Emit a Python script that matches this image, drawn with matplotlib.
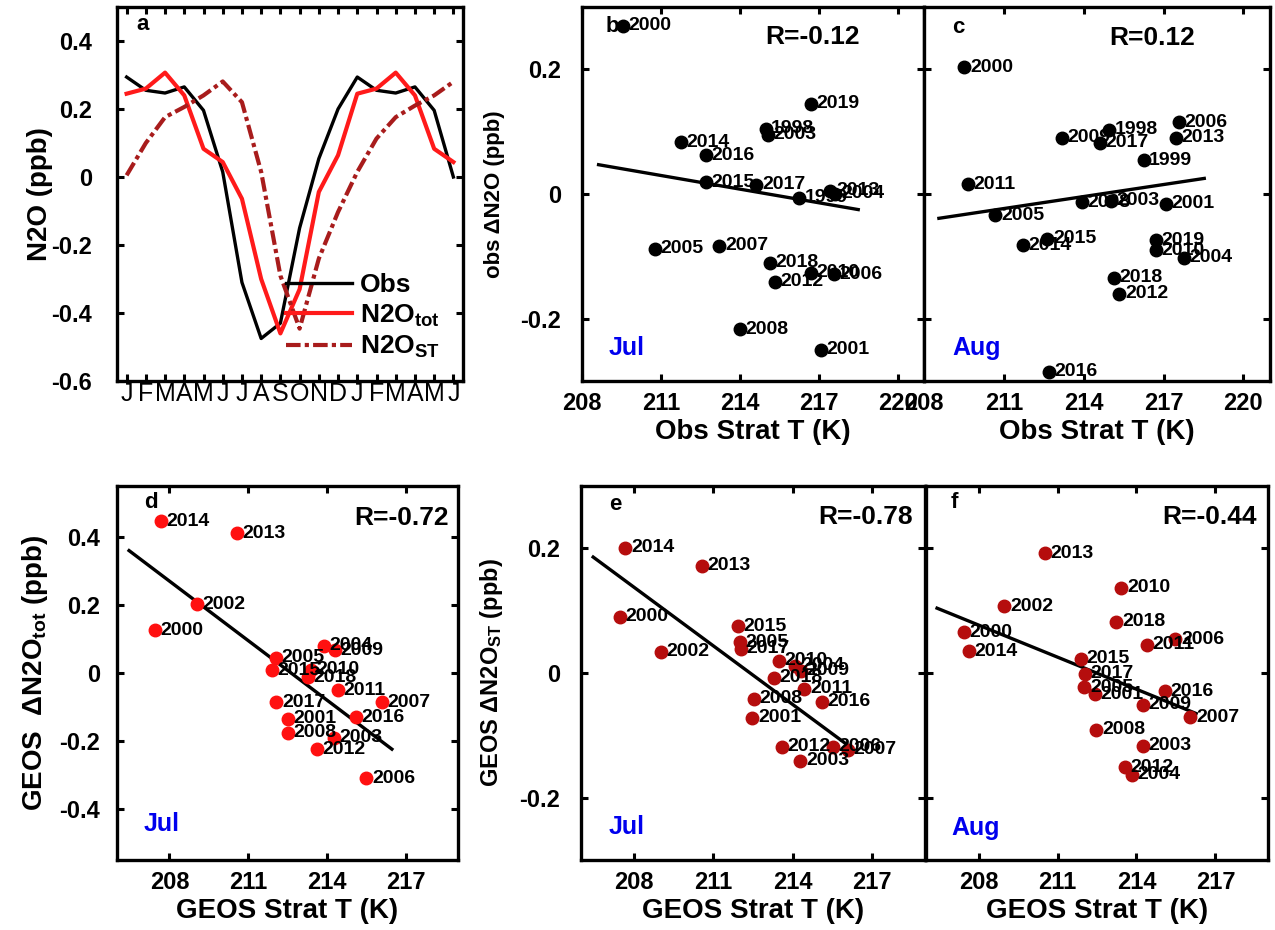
import matplotlib
matplotlib.use('Agg')
import matplotlib.pyplot as plt
import numpy as np

plt.rcParams['font.family'] = ['Liberation Sans', 'DejaVu Sans']
plt.rcParams['font.weight'] = 'bold'
plt.rcParams['axes.unicode_minus'] = False
plt.rcParams['mathtext.fontset'] = 'custom'
plt.rcParams['mathtext.rm'] = 'Liberation Sans:bold'
plt.rcParams['mathtext.it'] = 'Liberation Sans:bold'
plt.rcParams['mathtext.bf'] = 'Liberation Sans:bold'
plt.rcParams['mathtext.default'] = 'bf'

# ---- panel a: seasonal cycle (Jan..Dec, Jan..Jun)
months = ['J', 'F', 'M', 'A', 'M', 'J', 'J', 'A', 'S', 'O', 'N', 'D',
          'J', 'F', 'M', 'A', 'M', 'J']
obs_cycle = [0.294, 0.255, 0.247, 0.265, 0.196, 0.015, -0.31, -0.475, -0.43,
             -0.15, 0.054, 0.2, 0.294, 0.255, 0.247, 0.265, 0.196, 0.0]
tot_cycle = [0.245, 0.26, 0.307, 0.24, 0.083, 0.044, -0.064, -0.30, -0.46,
             -0.33, -0.044, 0.064, 0.245, 0.26, 0.307, 0.24, 0.083, 0.044]
st_cycle = [0.005, 0.10, 0.176, 0.206, 0.24, 0.281, 0.22, 0.015, -0.29,
            -0.446, -0.24, -0.103, 0.015, 0.113, 0.176, 0.21, 0.24, 0.28]

# ---- panel b: obs, July
b_years = ['2000', '2019', '1998', '2003', '2014', '2016', '2015', '2017', '1999',
           '2013', '2004', '2005', '2007', '2018', '2010', '2006', '2012', '2008', '2001']
b_t = [209.56, 216.69, 214.98, 215.06, 211.75, 212.71, 212.71, 214.63, 216.25,
       217.44, 217.63, 210.78, 213.22, 215.13, 216.71, 217.56, 215.34, 214.0, 217.09]
b_n2o = [0.270, 0.145, 0.105, 0.095, 0.083, 0.062, 0.019, 0.015, -0.006,
         0.005, 0.0, -0.088, -0.083, -0.110, -0.126, -0.129, -0.141, -0.217, -0.25]
b_fit_t = [208.63, 218.5]
b_fit_n2o = [0.047, -0.025]

# ---- panel c: obs, August
c_years = ['2000', '2006', '1998', '2013', '2009', '2017', '1999', '2011', '2008',
           '2003', '2001', '2005', '2014', '2015', '2019', '2010', '2004', '2018',
           '2012', '2016']
c_t = [209.52, 217.58, 214.96, 217.45, 213.19, 214.61, 216.25, 209.64, 213.94,
       215.02, 217.10, 210.68, 211.72, 212.64, 216.7, 216.7, 217.77, 215.14,
       215.34, 212.7]
c_n2o = [0.203, 0.115, 0.103, 0.090, 0.090, 0.082, 0.054, 0.016, -0.013,
         -0.011, -0.016, -0.034, -0.082, -0.072, -0.074, -0.090, -0.102, -0.134,
         -0.160, -0.285]
c_fit_t = [208.56, 218.53]
c_fit_n2o = [-0.039, 0.025]

# ---- panel d: GEOS N2O_tot, July
d_years = ['2014', '2013', '2002', '2000', '2004', '2009', '2005', '2015', '2010',
           '2018', '2011', '2007', '2017', '2016', '2001', '2008', '2003', '2012', '2006']
d_t = [207.66, 210.56, 209.04, 207.44, 213.89, 214.30, 212.05, 211.92, 213.38,
       213.29, 214.42, 216.1, 212.08, 215.11, 212.51, 212.53, 214.27, 213.63, 215.51]
d_n2o = [0.447, 0.411, 0.202, 0.126, 0.080, 0.067, 0.045, 0.008, 0.010,
         -0.012, -0.051, -0.086, -0.086, -0.130, -0.135, -0.175, -0.190, -0.224, -0.310]
d_fit_t = [206.46, 216.48]
d_fit_n2o = [0.360, -0.224]

# ---- panel e: GEOS N2O_ST, July
e_years = ['2014', '2013', '2000', '2015', '2005', '2017', '2002', '2010', '2004',
           '2009', '2018', '2011', '2008', '2016', '2001', '2012', '2006', '2007', '2003']
e_t = [207.68, 210.56, 207.47, 211.93, 212.02, 212.05, 209.02, 213.47, 214.10,
       214.31, 213.28, 214.44, 212.52, 215.11, 212.48, 213.59, 215.53, 216.08, 214.29]
e_n2o = [0.201, 0.172, 0.090, 0.075, 0.049, 0.039, 0.034, 0.020, 0.012,
         0.004, -0.008, -0.025, -0.041, -0.046, -0.072, -0.118, -0.118, -0.123, -0.141]
e_fit_t = [206.46, 216.12]
e_fit_n2o = [0.186, -0.117]

# ---- panel f: GEOS N2O_ST, August
f_years = ['2013', '2010', '2002', '2018', '2000', '2014', '2011', '2006', '2015',
           '2017', '2005', '2001', '2016', '2009', '2007', '2008', '2003', '2012', '2004']
f_t = [210.52, 213.43, 208.98, 213.24, 207.43, 207.62, 214.40, 215.48, 211.88,
       212.04, 212.02, 212.42, 215.07, 214.26, 216.05, 212.48, 214.24, 213.55, 213.83]
f_n2o = [0.192, 0.137, 0.107, 0.082, 0.065, 0.035, 0.045, 0.054, 0.023,
         -0.001, -0.023, -0.034, -0.029, -0.051, -0.071, -0.091, -0.117, -0.151, -0.163]
f_fit_t = [206.42, 216.27]
f_fit_n2o = [0.104, -0.065]

W, H = 1275, 930
fig = plt.figure(figsize=(W / 100, H / 100), dpi=100)
narrow = ['Liberation Sans Narrow', 'Liberation Sans', 'DejaVu Sans']


def px_axes(l, r, t, b):
    return fig.add_axes([l / W, 1 - b / H, (r - l) / W, (b - t) / H])


def style(ax, ypad=12):
    for s in ax.spines.values():
        s.set_linewidth(2.4)
    ax.tick_params(direction='in', length=5, width=2.2, top=True, right=True,
                   labelsize=17)
    ax.tick_params(axis='x', pad=8)
    ax.tick_params(axis='y', pad=ypad)
    for lab in ax.get_xticklabels() + ax.get_yticklabels():
        lab.set_fontweight('bold')


def scatter_panel(ax, t, n2o, years, fit_t, fit_n2o, color):
    ax.plot(fit_t, fit_n2o, color='black', lw=2.4, zorder=2)
    ax.plot(t, n2o, 'o', color=color, ms=9, zorder=3)
    for xx, yy, yr in zip(t, n2o, years):
        ax.annotate(yr, (xx, yy), xytext=(4, 0), textcoords='offset points',
                    va='center', ha='left', fontsize=14, fontweight='bold', zorder=4)


def corner_texts(ax, letter, lpos, rtext, rpos, month, mpos):
    ax.text(lpos[0], lpos[1], letter, transform=ax.transAxes, fontsize=16,
            fontweight='bold', ha='center', va='center')
    ax.text(rpos[0], rpos[1], rtext, transform=ax.transAxes, fontsize=19,
            fontweight='bold', ha='right', va='center')
    ax.text(mpos[0], mpos[1], month, transform=ax.transAxes, fontsize=18,
            fontweight='bold', color='#0000ee', ha='left', va='center')


# panel a
ax_a = px_axes(117, 463, 7, 381)
x_m = np.arange(1, len(months) + 1)
ax_a.plot(x_m, obs_cycle, color='black', lw=2.4, label='Obs')
ax_a.plot(x_m, tot_cycle, color='#ff1a1a', lw=3.0, label='N2O$_{tot}$')
ax_a.plot(x_m, st_cycle, color='#a81c1c', lw=3.0, dashes=(3.5, 1, 1, 1),
          label='N2O$_{ST}$')
ax_a.set_xlim(0.5, 18.5)
ax_a.set_ylim(-0.6, 0.5)
ax_a.set_xticks(x_m)
ax_a.set_xticklabels(months)
ax_a.set_yticks([-0.6, -0.4, -0.2, 0, 0.2, 0.4])
ax_a.set_yticklabels(['-0.6', '-0.4', '-0.2', '0', '0.2', '0.4'])
style(ax_a, ypad=18)
ax_a.tick_params(axis='x', pad=1, labelsize=18)
for lab in ax_a.get_xticklabels():
    lab.set_fontweight('normal')
ax_a.set_ylabel('N2O (ppb)', fontsize=20, fontweight='bold')
ax_a.yaxis.set_label_coords(-0.185, 0.5)
ax_a.legend(loc='lower right', bbox_to_anchor=(0.97, 0.02), frameon=False,
            fontsize=19, handlelength=2.5, handletextpad=0.3, labelspacing=0.2,
            borderpad=0)
ax_a.text(0.075, 0.952, 'a', transform=ax_a.transAxes, fontsize=16,
          fontweight='bold', ha='center', va='center')

# panel b
ax_b = px_axes(582, 924, 7, 381)
scatter_panel(ax_b, b_t, b_n2o, b_years, b_fit_t, b_fit_n2o, 'black')
ax_b.set_xlim(208, 221)
ax_b.set_ylim(-0.3, 0.3)
ax_b.set_xticks([208, 211, 214, 217, 220])
ax_b.set_yticks([-0.2, 0, 0.2])
ax_b.set_yticklabels(['-0.2', '0', '0.2'])
style(ax_b, ypad=15)
ax_b.set_ylabel('obs \u0394N2O (ppb)', fontsize=16, fontweight='bold', family=narrow)
ax_b.yaxis.set_label_coords(-0.225, 0.5)
ax_b.set_xlabel('Obs Strat T (K)', fontsize=20, fontweight='bold', labelpad=3)
corner_texts(ax_b, 'b', (0.09, 0.947), 'R=-0.12', (0.813, 0.92), 'Jul', (0.079, 0.088))

# panel c
ax_c = px_axes(924, 1270, 7, 381)
scatter_panel(ax_c, c_t, c_n2o, c_years, c_fit_t, c_fit_n2o, 'black')
ax_c.set_xlim(208, 221)
ax_c.set_ylim(-0.3, 0.3)
ax_c.set_xticks([208, 211, 214, 217, 220])
ax_c.set_yticks([-0.2, 0, 0.2])
ax_c.set_yticklabels([])
style(ax_c)
ax_c.set_xlabel('Obs Strat T (K)', fontsize=20, fontweight='bold', labelpad=3)
corner_texts(ax_c, 'c', (0.098, 0.944), 'R=0.12', (0.783, 0.917), 'Aug', (0.081, 0.088))

# panel d
ax_d = px_axes(117, 458, 486, 860)
scatter_panel(ax_d, d_t, d_n2o, d_years, d_fit_t, d_fit_n2o, '#ff1010')
ax_d.set_xlim(206, 219)
ax_d.set_ylim(-0.55, 0.55)
ax_d.set_xticks([208, 211, 214, 217])
ax_d.set_yticks([-0.4, -0.2, 0, 0.2, 0.4])
ax_d.set_yticklabels(['-0.4', '-0.2', '0', '0.2', '0.4'])
style(ax_d, ypad=12)
ax_d.set_ylabel('GEOS  \u0394N2O$_{tot}$ (ppb)', fontsize=20, fontweight='bold')
ax_d.yaxis.set_label_coords(-0.196, 0.5)
ax_d.set_xlabel('GEOS Strat T (K)', fontsize=20, fontweight='bold', labelpad=3)
corner_texts(ax_d, 'd', (0.10, 0.957), 'R=-0.72', (0.974, 0.914), 'Jul', (0.079, 0.096))

# panel e
ax_e = px_axes(581, 925, 486, 860)
scatter_panel(ax_e, e_t, e_n2o, e_years, e_fit_t, e_fit_n2o, '#b50d0d')
ax_e.set_xlim(206, 219)
ax_e.set_ylim(-0.3, 0.3)
ax_e.set_xticks([208, 211, 214, 217])
ax_e.set_yticks([-0.2, 0, 0.2])
ax_e.set_yticklabels(['-0.2', '0', '0.2'])
style(ax_e, ypad=15)
ax_e.set_ylabel('GEOS \u0394N2O$_{ST}$ (ppb)', fontsize=17, fontweight='bold', family=narrow)
ax_e.yaxis.set_label_coords(-0.221, 0.5)
ax_e.set_xlabel('GEOS Strat T (K)', fontsize=20, fontweight='bold', labelpad=3)
corner_texts(ax_e, 'e', (0.10, 0.95), 'R=-0.78', (0.965, 0.917), 'Jul', (0.081, 0.088))

# panel f
ax_f = px_axes(926, 1268, 486, 860)
scatter_panel(ax_f, f_t, f_n2o, f_years, f_fit_t, f_fit_n2o, '#b50d0d')
ax_f.set_xlim(206, 219)
ax_f.set_ylim(-0.3, 0.3)
ax_f.set_xticks([208, 211, 214, 217])
ax_f.set_yticks([-0.2, 0, 0.2])
ax_f.set_yticklabels([])
style(ax_f)
ax_f.set_xlabel('GEOS Strat T (K)', fontsize=20, fontweight='bold', labelpad=3)
corner_texts(ax_f, 'f', (0.083, 0.955), 'R=-0.44', (0.966, 0.917), 'Aug', (0.074, 0.086))

fig.savefig('out.png', dpi=100)
